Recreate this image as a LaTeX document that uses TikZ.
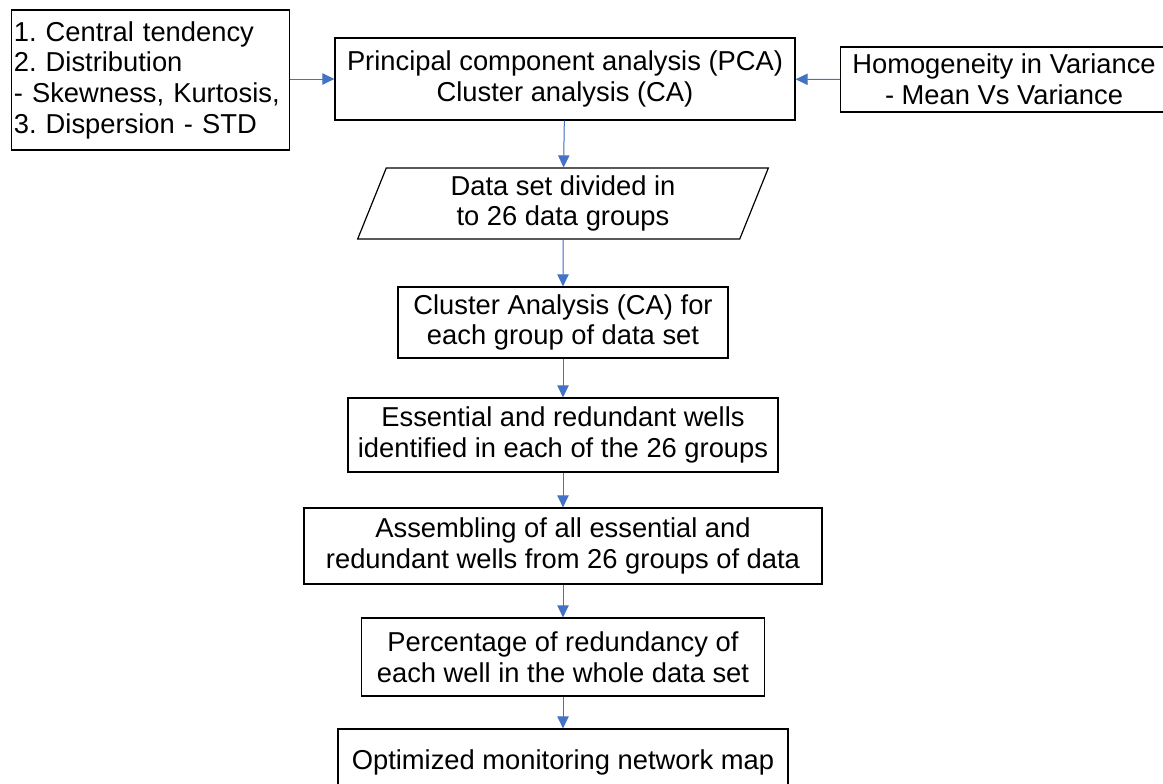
\documentclass[tikz,border=0pt]{standalone}
\usepackage{fontspec}
\setmainfont{Liberation Sans}
\frenchspacing
\usetikzlibrary{arrows.meta,shapes.geometric,positioning}
\definecolor{flowblue}{RGB}{68,114,196}
\tikzset{
  every picture/.style = {
    x = 0.75pt,
    y = -0.75pt,
    >={Triangle[length=9pt,width=8.5pt]},
  }
  ,
  procbox/.style = {
    rectangle,
    draw,
    line width = 0.9pt,
    font = \fontsize{20.5pt}{23pt}\selectfont,
    align = center,
    inner sep = 0pt
  }
  , % parallelogram for the data step
  databox/.style = {
    procbox,
    trapezium,
    trapezium left angle = 63,
    trapezium right angle = 117,
    trapezium stretches body
  }
  , % blue arrows between boxes
  flow/.style = {
    ->,
    draw = flowblue,
    fill = flowblue,
    line width = 0.75pt
  }
}
\begin{document}
\begin{tikzpicture}
  \useasboundingbox (0,0) rectangle (1163,783);
  \clip (0,0) rectangle (1163,783);
  \node[procbox, align=left, text width=205pt, inner xsep=2pt, minimum height=105pt] at (150.5,80) (stats) {1. Central tendency\\2. Distribution\\- Skewness, Kurtosis,\\3. Dispersion - STD};
  \node[procbox, minimum width=345pt, minimum height=61.5pt] at (565,79) (pca) {Principal component analysis (PCA)\\Cluster analysis (CA)};
  \node[procbox, minimum width=245pt, minimum height=48.75pt] at (1004,79.5) (homog) {Homogeneity in Variance\\- Mean Vs Variance};
  \node[databox, minimum width=308pt, minimum height=53.25pt] at (563,203.5) (groups) {Data set divided in\\to 26 data groups};
  \node[procbox, minimum width=247.5pt, minimum height=53.25pt] at (563,322.5) (cluster) {Cluster Analysis (CA) for\\each group of data set};
  \node[procbox, minimum width=322.5pt, minimum height=55.5pt] at (563,435) (wells) {Essential and redundant wells\\identified in each of the 26 groups};
  \node[procbox, minimum width=388.5pt, minimum height=57pt] at (563,546) (assemble) {Assembling of all essential and\\redundant wells from 26 groups of data};
  \node[procbox, minimum width=302.25pt, minimum height=58.5pt] at (563,657) (percent) {Percentage of redundancy of\\each well in the whole data set};
  \node[procbox, minimum width=337.5pt, minimum height=49.5pt] at (563,762) (netmap) {Optimized monitoring network map};
  \draw[flow] (stats.east |- pca) -- (pca);
  \draw[flow] (homog) -- (pca);
  \draw[flow] (pca) -- (groups);
  \draw[flow] (groups) -- (cluster);
  \draw[flow] (cluster) -- (wells);
  \draw[flow] (wells) -- (assemble);
  \draw[flow] (assemble) -- (percent);
  \draw[flow] (percent) -- (netmap);
\end{tikzpicture}
\end{document}
